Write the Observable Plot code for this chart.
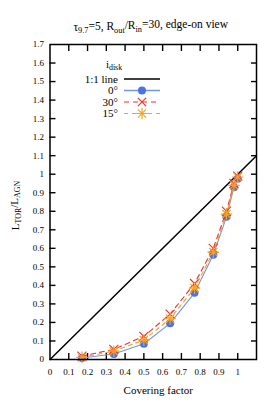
<!DOCTYPE html>
<html><head><meta charset="utf-8">
<script src="https://cdn.jsdelivr.net/npm/d3@7"></script>
<script src="https://cdn.jsdelivr.net/npm/@observablehq/plot@0.6"></script>
<style>
body{margin:0;background:#fff;}
#wrap{position:relative;width:273px;height:407px;}
</style></head><body><div id="wrap"></div>
<script>
const coveringFactor = [0.17, 0.34, 0.5, 0.64, 0.77, 0.87, 0.94, 0.98, 1.0];
const lum0  = [0.008, 0.03, 0.085, 0.195, 0.36, 0.565, 0.77, 0.93, 0.975];
const lum30 = [0.018, 0.055, 0.125, 0.245, 0.41, 0.60, 0.80, 0.95, 0.99];
const lum15 = [0.012, 0.045, 0.105, 0.22, 0.385, 0.58, 0.785, 0.94, 0.985];
const xTicks = [0, 0.1, 0.2, 0.3, 0.4, 0.5, 0.6, 0.7, 0.8, 0.9, 1];
const yTicks = [0, 0.1, 0.2, 0.3, 0.4, 0.5, 0.6, 0.7, 0.8, 0.9, 1, 1.1, 1.2, 1.3, 1.4, 1.5, 1.6, 1.7];
const oneToOne = [0, 1.1];
const seriesNames = ["0°", "30°", "15°"];

const C0 = "#4a74e6", L0 = "#6f95ee", C30 = "#ff2a2a", C15 = "#f7a21b";
const pts = (ys) => coveringFactor.map((x, i) => ({x, y: ys[i]}));
const s0 = pts(lum0), s30 = pts(lum30), s15 = pts(lum15);

const innerX = xTicks.filter(d => d > 0);
const innerY = yTicks.filter(d => d > 0 && d < 1.7);
const fmt = d => String(d);

const chart = Plot.plot({
  width: 273, height: 407,
  marginLeft: 49.5, marginRight: 17, marginTop: 44, marginBottom: 48,
  x: {domain: [0, 1.1]},
  y: {domain: [0, 1.7]},
  style: {fontFamily: "Liberation Serif", fontSize: "9px", color: "#000", background: "#fff"},
  marks: [
    Plot.axisX(xTicks, {anchor: "bottom", tickSize: 0, tickPadding: 9, label: null, tickFormat: fmt, fontSize: 9}),
    Plot.axisY(yTicks, {anchor: "left", tickSize: 0, tickPadding: 6, label: null, tickFormat: fmt, fontSize: 9}),
    Plot.axisX(innerX, {anchor: "bottom", tickSize: -6, strokeWidth: 1.4, tickFormat: () => "", label: null}),
    Plot.axisX(innerX, {anchor: "top", tickSize: -6, strokeWidth: 1.4, tickFormat: () => "", label: null}),
    Plot.axisY(innerY, {anchor: "left", tickSize: -6, strokeWidth: 1.4, tickFormat: () => "", label: null}),
    Plot.axisY(innerY, {anchor: "right", tickSize: -6, strokeWidth: 1.4, tickFormat: () => "", label: null}),
    Plot.line(oneToOne, {x: d => d, y: d => d, stroke: "#000", strokeWidth: 1.5}),
    Plot.line(s0, {x: "x", y: "y", stroke: L0, strokeWidth: 1.1}),
    Plot.dot(s0, {x: "x", y: "y", r: 4, fill: C0, stroke: "none"}),
    Plot.line(s30, {x: "x", y: "y", stroke: C30, strokeWidth: 1.1, strokeDasharray: "5,4"}),
    Plot.dot(s30, {x: "x", y: "y", symbol: "times", r: 4.2, stroke: C30, strokeWidth: 1.1}),
    Plot.line(s15, {x: "x", y: "y", stroke: C15, strokeWidth: 1.1, strokeDasharray: "4,4"}),
    Plot.dot(s15, {x: "x", y: "y", symbol: "plus", r: 3.8, stroke: C15, strokeWidth: 1.2}),
    Plot.dot(s15, {x: "x", y: "y", symbol: "times", r: 3.8, stroke: C15, strokeWidth: 1.2}),
    Plot.frame({stroke: "#000", strokeWidth: 1.5}),
    Plot.text(["Covering factor"], {frameAnchor: "bottom", dy: 34, dx: 5, fontSize: 11, fontFamily: "Liberation Serif"})
  ]
});
document.getElementById("wrap").appendChild(chart);

const svg = d3.select(chart);
const xs = chart.scale("x"), ys = chart.scale("y");
const x0 = xs.apply(0), x1 = xs.apply(1.1), y0 = ys.apply(0), y1 = ys.apply(1.7);

// title
const title = svg.append("text").attr("x", (x0 + x1) / 2 - 2).attr("y", 31)
  .attr("text-anchor", "middle").attr("font-family", "Liberation Serif").attr("font-size", 11.5);
function sub(t, parts) {
  parts.forEach(([s, isSub]) => {
    const ts = t.append("tspan").text(s);
    if (isSub) ts.attr("font-size", "0.72em").attr("dy", "0.3em");
    else ts.attr("dy", t.node().__lastSub ? "-0.3em" : null);
    t.node().__lastSub = isSub;
  });
}
sub(title, [["τ", false], ["9.7", true], ["=5, R", false], ["out", true], ["/R", false], ["in", true], ["=30, edge-on view", false]]);

// y label
const ylab = svg.append("text")
  .attr("transform", `translate(19,${(y0 + y1) / 2 + 4}) rotate(-90)`)
  .attr("text-anchor", "middle").attr("font-family", "Liberation Serif").attr("font-size", 11);
sub(ylab, [["L", false], ["TOR", true], ["/L", false], ["AGN", true]]);

// legend
const lg = svg.append("g").attr("font-family", "Liberation Serif").attr("font-size", 11);
const hdr = lg.append("text").attr("x", 114).attr("y", 68).attr("text-anchor", "middle");
sub(hdr, [["i", false], ["disk", true]]);
const rows = [
  {label: "1:1 line", y: 79, stroke: "#000", w: 1.5, dash: null},
  {label: seriesNames[0], y: 90.5, stroke: L0, w: 1.3, dash: null, sym: [[d3.symbolCircle, C0, true]]},
  {label: seriesNames[1], y: 102, stroke: C30, w: 1.1, dash: "5,4", sym: [[d3.symbolTimes, C30, false]]},
  {label: seriesNames[2], y: 113.5, stroke: C15, w: 1.1, dash: "4,4", sym: [[d3.symbolPlus, C15, false], [d3.symbolTimes, C15, false]]}
];
rows.forEach(r => {
  lg.append("text").attr("x", 118).attr("y", r.y + 3.8).attr("text-anchor", "end").text(r.label);
  const ln = lg.append("line").attr("x1", 124).attr("x2", 160).attr("y1", r.y).attr("y2", r.y)
    .attr("stroke", r.stroke).attr("stroke-width", r.w);
  if (r.dash) ln.attr("stroke-dasharray", r.dash);
  (r.sym || []).forEach(([s, c, filled]) => {
    const size = filled ? Math.PI * 16 : 45;
    const p = lg.append("path").attr("d", d3.symbol(s, size)()).attr("transform", `translate(142,${r.y})`);
    if (filled) p.attr("fill", c); else p.attr("fill", "none").attr("stroke", c).attr("stroke-width", 1.2);
  });
});
</script>
</body></html>
